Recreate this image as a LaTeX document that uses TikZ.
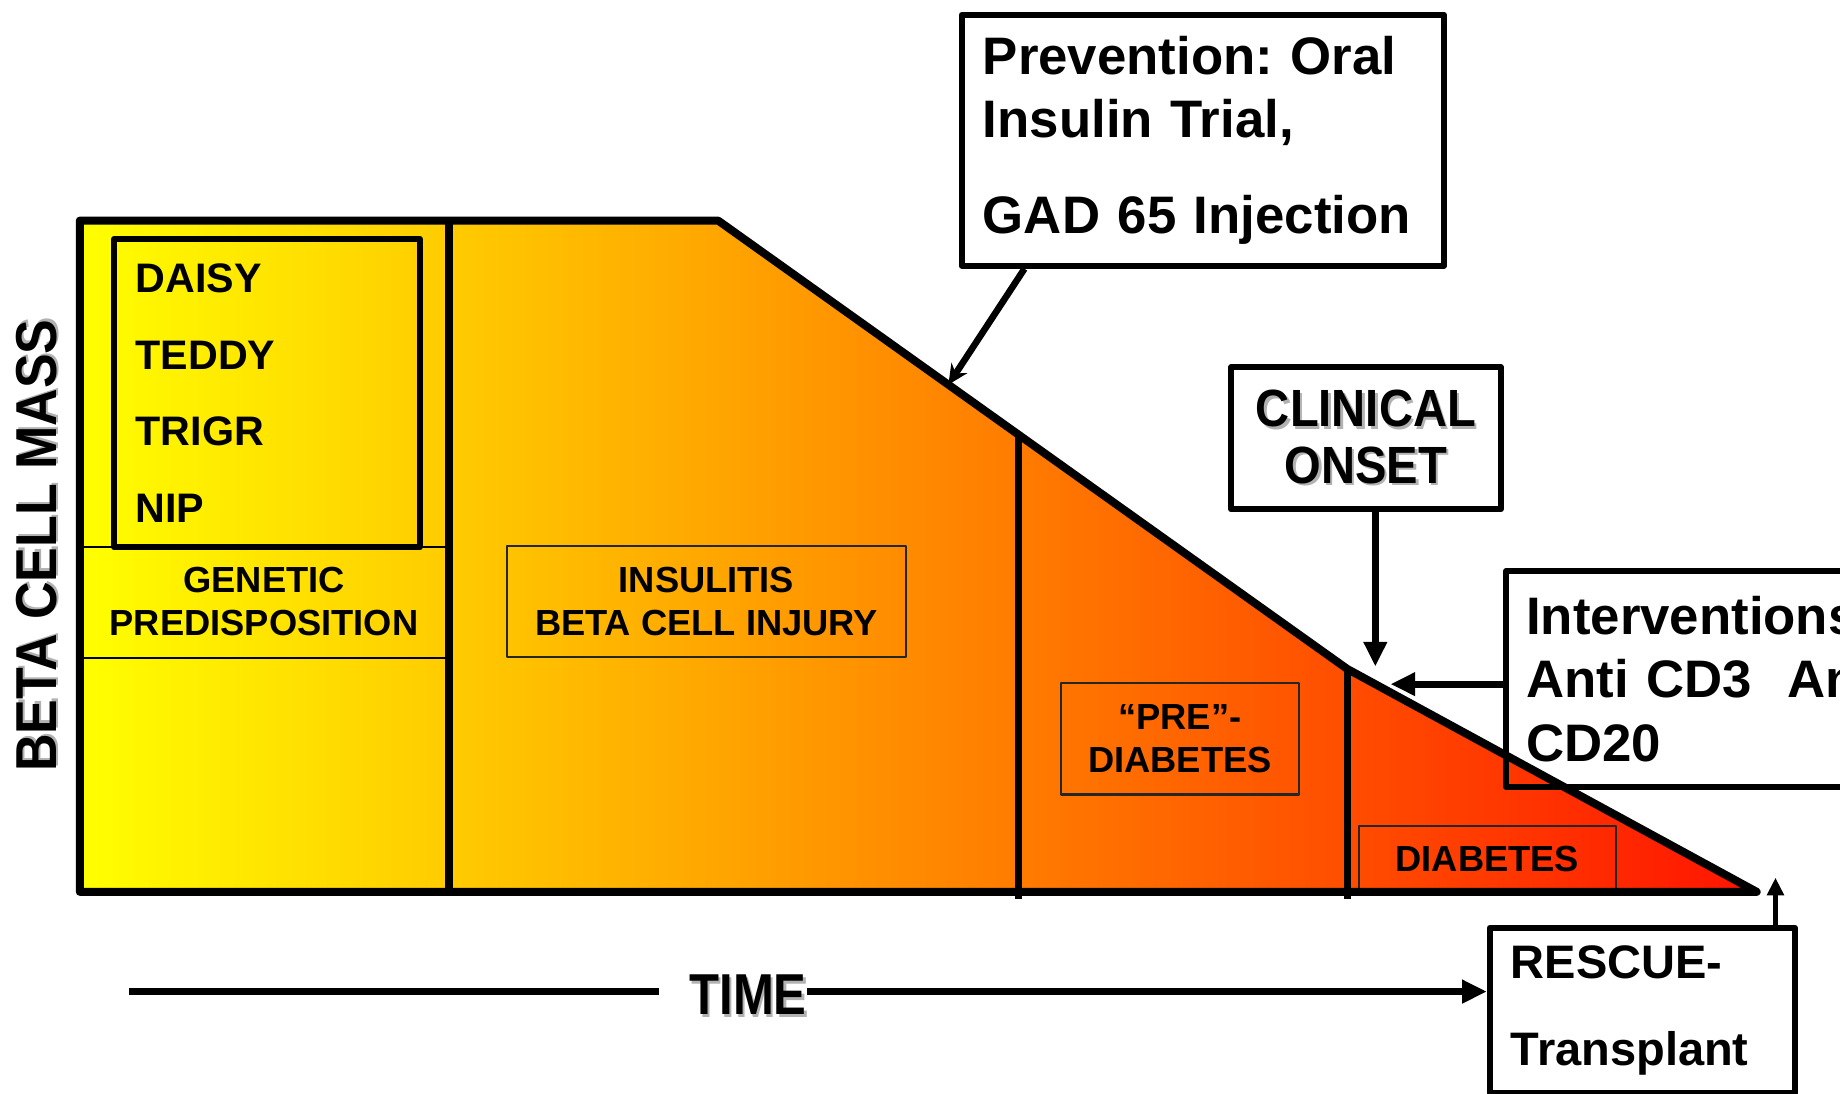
\documentclass[tikz,border=0pt]{standalone}
\usepackage{graphicx}
\usepackage{fontspec}
\setmainfont{Liberation Sans}
\usetikzlibrary{calc,arrows.meta,positioning}
\frenchspacing

\definecolor{massyellow}{RGB}{255,255,0}
\definecolor{massorange}{RGB}{255,140,0}
\definecolor{massred}{RGB}{255,20,0}

\newcommand{\listfont}{\fontsize{20pt}{37.1pt}\selectfont\bfseries}
\newcommand{\stagefont}{\fontsize{17.6pt}{21pt}\selectfont\bfseries}
\newcommand{\callfont}{\fontsize{25.6pt}{30.7pt}\selectfont\bfseries}
\newcommand{\rescuefont}{\fontsize{22.8pt}{42pt}\selectfont\bfseries}
\newcommand{\onsetfont}{\fontsize{25.4pt}{27.3pt}\selectfont\bfseries}
\newcommand{\axisfont}{\fontsize{28pt}{30pt}\selectfont\bfseries}
\newcommand{\shadowed}[2][0.9]{\scalebox{#1}[1]{\rlap{\kern1.3pt\raisebox{-1.3pt}{\color{black!30}#2}}#2}}

\begin{document}
\begin{tikzpicture}[x=0.02cm, y=-0.02cm, line join=round,
  callout/.style={draw, line width=2.9pt, inner ysep=0pt},
  stagebox/.style={draw=black!85, line width=1.1pt, align=center, font=\stagefont,
    minimum height=1.9cm, inner sep=0pt},
  arr/.style={line width=3.5pt, -{Triangle[length=0.42cm,width=0.38cm]}}]
\useasboundingbox[fill=white] (0,0) rectangle (1568,932);
% beta cell mass curve
\coordinate (topleft) at (68,188);
\coordinate (plateau) at (612,188);
\coordinate (knee) at (1148,570);
\coordinate (zero) at (1497,760);
\coordinate (origin) at (68,760);
\shade[left color=massyellow, middle color=massorange, right color=massred]
  (topleft) -- (plateau) -- (knee) -- (zero) -- (origin) -- cycle;
% stage dividers
\coordinate (predtop) at ($(plateau)!0.4776!(knee)$);
\draw[line width=3.9pt] (383,188) -- (383,760);
\draw[line width=3.3pt] (predtop) -- (868,766);
\draw[line width=3.3pt] (knee) -- (1148,766);
\draw[line width=0.9pt] (68,466) -- (383,466) (68,561) -- (383,561);
% stage labels
\node[draw, line width=2.9pt, anchor=north west, minimum width=5.2cm, minimum height=5.26cm,
  text width=4.48cm, inner xsep=0.36cm, align=left, font=\listfont] (trials) at (95,201)
  {DAISY\\TEDDY\\TRIGR\\NIP};
\node[align=center, font=\stagefont] (genetic) at (225,512.5) {GENETIC\\PREDISPOSITION};
\node[stagebox, minimum width=6.8cm] (insulitis) at (602,512.5) {INSULITIS\\BETA CELL INJURY};
\node[stagebox, minimum width=4.06cm] (prediab) at (1005.5,629.5) {“PRE”-\\DIABETES};
\node[stagebox, minimum width=4.38cm, minimum height=1.12cm] (diabetes) at (1267.5,732) {DIABETES};
\draw[line width=3.9pt] (topleft) -- (plateau) -- (knee) -- (zero) -- (origin) -- cycle;
% callouts
\node[callout, anchor=north west, minimum width=8.22cm, minimum height=4.28cm, text width=7.5cm,
  inner xsep=0.36cm, align=left, font=\callfont] (prevention) at (817,10)
  {Prevention: Oral\\Insulin Trial,\\[16pt]GAD 65 Injection};
\node[callout, minimum width=4.6cm, minimum height=2.42cm, align=center, font=\onsetfont]
  (onset) at (1164,373.5) {\shadowed{CLINICAL}\\\shadowed{ONSET}};
\node[callout, anchor=north west, minimum width=8.8cm, minimum height=3.68cm, text width=8.12cm,
  inner xsep=0.34cm, align=left, font=\callfont] (interv) at (1281,484)
  {Interventions:\\Anti CD3\ \ Anti\\CD20};
\node[callout, anchor=north west, minimum width=5.2cm, minimum height=2.82cm, text width=4.48cm,
  inner xsep=0.36cm, align=left, font=\rescuefont] (rescue) at (1267,788) {RESCUE-\\Transplant};
% axes
\node[rotate=90, font=\axisfont, inner sep=0pt] (mass) at (32,465) {\shadowed[0.9]{BETA CELL MASS}};
\coordinate (timestart) at (110,845);
\coordinate (timegap) at (562,845);
\node[font=\axisfont, inner sep=0pt] (time) at (637.5,849) {\shadowed[0.85]{TIME}};
\draw[line width=3.5pt] (timestart) -- (timegap);
\draw[arr] (time.east |- timestart) -- (rescue.west |- timestart);
% pointers
\coordinate (prevtip) at ($(plateau)!0.366!(knee)$);
\coordinate (onsettip) at (1172,568);
\coordinate (intertip) at (1185,583);
\coordinate (rescuetip) at (1513,748);
\draw[line width=3.2pt, -{Stealth[length=0.34cm,width=0.32cm]}] ([xshift=1.12cm]prevention.south west) -- (prevtip);
\draw[arr] (onsettip |- onset.south) -- (onsettip);
\draw[arr] (interv.west |- intertip) -- (intertip);
\draw[line width=2.6pt, -{Triangle[length=0.3cm,width=0.28cm]}] (rescuetip |- rescue.north) -- (rescuetip);
\end{tikzpicture}
\end{document}
